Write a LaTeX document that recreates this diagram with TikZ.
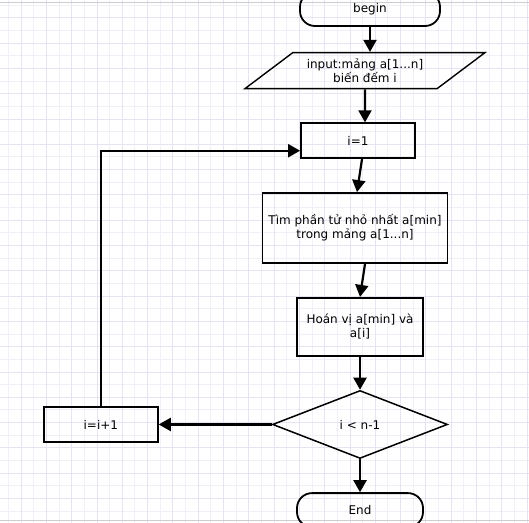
\documentclass[tikz,border=0pt]{standalone}
\usepackage{fontspec}
\setmainfont{DejaVu Sans}
\usepackage{tikz}
\usetikzlibrary{arrows.meta,positioning,shapes.geometric,calc}
\definecolor{gridblue}{RGB}{240,240,249}
\definecolor{majorblue}{RGB}{228,228,242}
\definecolor{edgegray}{RGB}{205,205,205}

\begin{document}
\begin{tikzpicture}[x=1pt, y=-1pt, node distance=33pt and 113pt, >={Triangle[length=12pt,width=13pt]},
	font=\fontsize{12}{14}\selectfont,
	terminal/.style={draw, rectangle, rounded corners=15pt, line width=1.8pt, minimum width=126pt, minimum height=34pt},
	iobox/.style={draw, trapezium, trapezium left angle=32, trapezium right angle=148, trapezium stretches body, minimum width=240pt, minimum height=36pt, inner xsep=0pt, inner ysep=3pt, line width=1.4pt, align=center},
	process/.style={draw, rectangle, line width=1.8pt, minimum height=35pt, align=center},
	decision/.style={draw, diamond, aspect=2.5, minimum width=175pt, minimum height=68pt, inner sep=0pt, line width=1.5pt},
	chainLine/.style={line width=2.2pt, ->, color=black}
	]
	\useasboundingbox (0,0) rectangle (529,522);
	\clip (0,0) rectangle (529,522);
	% background grid
	\begin{scope}[shift={(21,43)}]
	\draw[gridblue, line width=0.8pt, step=12.65pt] (-30,-50) grid (520,490);
	\draw[majorblue, line width=0.8pt, step=25.3pt] (-30,-50) grid (520,490);
	\end{scope}
	\draw[edgegray] (0,2) -- (529,2);
	\draw[edgegray] (0,520) -- (529,520);
	
	\node[terminal, minimum width=140pt] (begin) at (370,9) {begin};
	\node[iobox, below = 25pt of begin, xshift=-5pt] (input) {input:mảng a[1...n]\\biến đếm i};
	\draw [chainLine] (begin) -- (begin |- input.north);
	
	\node[process, minimum width=114pt, below = of input, xshift=-7pt] (init) {i=1};
	\draw [chainLine] (input) -- (input |- init.north);
	
	\node[process, minimum width=185pt, minimum height=70pt, below = of init, xshift=-3pt] (find) {Tìm phần tử nhỏ nhất a[min]\\trong mảng a[1...n]};
	\draw [chainLine] ([xshift=4pt]init.south) -- ([xshift=2pt]find.north);
	
	\node[process, minimum width=126pt, minimum height=58pt, below = of find, xshift=5pt] (swap) {Hoán vị a[min] và\\a[i]};
	\draw [chainLine] ([xshift=10pt]find.south) -- (swap.north);
	
	\node[decision, below = of swap] (check) {i < n-1};
	\draw [chainLine] (swap) -- (check);
	
	\node[process, minimum width=114pt, left = of check] (inc) {i=i+1};
	\draw [chainLine] (check) -- (inc);
	\draw [chainLine] (inc) |- ([yshift=-10pt]init.west);
	
	\node[terminal, below = of check] (end) {End};
	\draw [chainLine] (check) -- (end);
\end{tikzpicture}
\end{document}
